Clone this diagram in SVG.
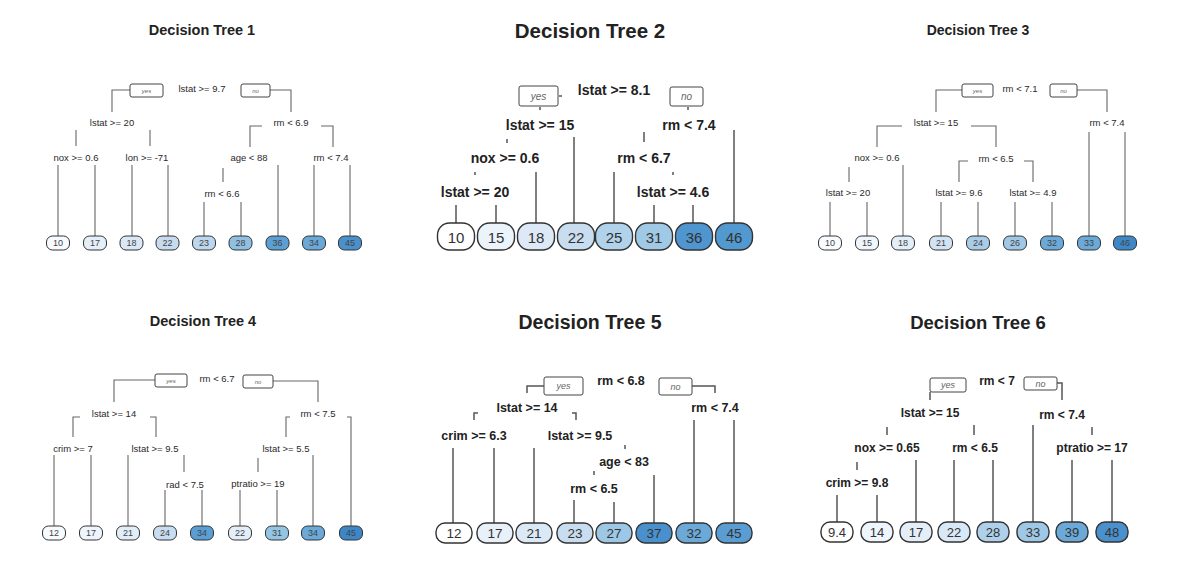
<svg xmlns="http://www.w3.org/2000/svg" width="1182" height="574" viewBox="0 0 1182 574">
<style>
text{font-family:"Liberation Sans",Arial,sans-serif;text-anchor:middle;dominant-baseline:central;fill:#222}
.ts{font-size:14.5px;font-weight:bold}
.tl{font-size:20.5px;font-weight:bold}
.ls{font-size:9.5px;fill:#2a2a2a}
.lm{font-size:12.5px;font-weight:bold}
.ll{font-size:14px;font-weight:bold}
.ks{font-size:9px;fill:#444}
.km{font-size:13.5px;fill:#333}
.kl{font-size:15px;fill:#333}
.yn{font-style:italic;fill:#666}
.yns{font-size:6px}
.ynm{font-size:9px}
.ynl{font-size:10px}
.box{fill:#fff;stroke:#444;stroke-width:1}
.leaf{stroke:#333;stroke-width:1}
.leafL{stroke:#333;stroke-width:1.4}
.cn path{fill:none;stroke:#666;stroke-width:1.1}
.cnL path{fill:none;stroke:#555;stroke-width:1.5}
</style>
<rect width="1182" height="574" fill="#fff"/>

<!-- ================= Tree 1 ================= -->
<text class="ts" x="202" y="30">Decision Tree 1</text>
<g class="cn" id="t1-connectors">
<path d="M130,90 H112 V112"/><path d="M270,90 H291 V112"/>
<path d="M76,130 V146"/><path d="M150,130 V146"/>
<path d="M262,126 H250 V147"/><path d="M321,126 H333 V147"/>
<path d="M223,168 V182"/>
<path d="M58,165 V236"/><path d="M95,165 V236"/><path d="M132,165 V236"/><path d="M168,165 V236"/>
<path d="M204,202 V236"/><path d="M241,202 V236"/>
<path d="M278,165 V236"/><path d="M314,165 V236"/><path d="M350,165 V236"/>
</g>
<g id="t1-root"><rect class="box" x="130" y="84" width="33" height="13" rx="2"/><text class="yn yns" x="146.5" y="90.5">yes</text>
<text class="ls" x="202" y="88">lstat &gt;= 9.7</text>
<rect class="box" x="241" y="84" width="29" height="13" rx="2"/><text class="yn yns" x="255.5" y="90.5">no</text></g>
<g id="t1-n2"><text class="ls" x="112" y="122">lstat &gt;= 20</text></g>
<g id="t1-n3"><text class="ls" x="291" y="122">rm &lt; 6.9</text></g>
<g id="t1-n4"><text class="ls" x="76" y="157">nox &gt;= 0.6</text></g>
<g id="t1-n5"><text class="ls" x="147" y="157">lon &gt;= -71</text></g>
<g id="t1-n6"><text class="ls" x="249" y="157">age &lt; 88</text></g>
<g id="t1-n7"><text class="ls" x="331" y="157">rm &lt; 7.4</text></g>
<g id="t1-n12"><text class="ls" x="222" y="193">rm &lt; 6.6</text></g>
<g id="t1-l1"><rect class="leaf" x="46.5" y="236" width="23" height="14" rx="6" fill="#f7fbff"/><text class="ks" x="58" y="243">10</text></g>
<g id="t1-l2"><rect class="leaf" x="83.5" y="236" width="23" height="14" rx="6" fill="#e5eff9"/><text class="ks" x="95" y="243">17</text></g>
<g id="t1-l3"><rect class="leaf" x="120" y="236" width="23" height="14" rx="6" fill="#dae8f6"/><text class="ks" x="131.5" y="243">18</text></g>
<g id="t1-l4"><rect class="leaf" x="156" y="236" width="23" height="14" rx="6" fill="#c6dbef"/><text class="ks" x="167.5" y="243">22</text></g>
<g id="t1-l5"><rect class="leaf" x="192.5" y="236" width="23" height="14" rx="6" fill="#bdd7ee"/><text class="ks" x="204" y="243">23</text></g>
<g id="t1-l6"><rect class="leaf" x="229" y="236" width="23" height="14" rx="6" fill="#8fc0e2"/><text class="ks" x="240.5" y="243">28</text></g>
<g id="t1-l7"><rect class="leaf" x="266" y="236" width="23" height="14" rx="6" fill="#5b9fd3"/><text class="ks" x="277.5" y="243">36</text></g>
<g id="t1-l8"><rect class="leaf" x="302.5" y="236" width="23" height="14" rx="6" fill="#6aa8d8"/><text class="ks" x="314" y="243">34</text></g>
<g id="t1-l9"><rect class="leaf" x="338.5" y="236" width="23" height="14" rx="6" fill="#4a91cc"/><text class="ks" x="350" y="243">45</text></g>

<!-- ================= Tree 2 ================= -->
<text class="tl" x="590" y="30">Decision Tree 2</text>
<g class="cnL" id="t2-connectors">
<path d="M540,107 V110"/><path d="M559,96 H562"/><path d="M688,107 V110"/>
<path d="M507,139 V143"/><path d="M574,137 V223"/>
<path d="M475,172 V175"/><path d="M536,172 V223"/>
<path d="M456,205 V223"/><path d="M496,205 V223"/>
<path d="M644,132 V142"/><path d="M734,130 V223"/>
<path d="M614,172 V223"/><path d="M673,172 V175"/>
<path d="M654,205 V223"/><path d="M693,205 V223"/>
</g>
<g id="t2-root"><rect class="box" x="519" y="86" width="39" height="20" rx="2"/><text class="yn ynl" x="538.5" y="96">yes</text>
<text class="ll" x="614" y="90">lstat &gt;= 8.1</text>
<rect class="box" x="670" y="87" width="33" height="19" rx="2"/><text class="yn ynl" x="686.5" y="96.5">no</text></g>
<g id="t2-n2"><text class="ll" x="540" y="125">lstat &gt;= 15</text></g>
<g id="t2-n3"><text class="ll" x="689" y="125">rm &lt; 7.4</text></g>
<g id="t2-n4"><text class="ll" x="505" y="158">nox &gt;= 0.6</text></g>
<g id="t2-n6"><text class="ll" x="644" y="158">rm &lt; 6.7</text></g>
<g id="t2-n8"><text class="ll" x="475" y="192">lstat &gt;= 20</text></g>
<g id="t2-n13"><text class="ll" x="673" y="192">lstat &gt;= 4.6</text></g>
<g id="t2-l1"><rect class="leafL" x="437.5" y="223" width="37" height="27" rx="12" fill="#ffffff"/><text class="kl" x="456" y="237">10</text></g>
<g id="t2-l2"><rect class="leafL" x="477.5" y="223" width="37" height="27" rx="12" fill="#ebf3fb"/><text class="kl" x="496" y="237">15</text></g>
<g id="t2-l3"><rect class="leafL" x="517.5" y="223" width="37" height="27" rx="12" fill="#dde9f6"/><text class="kl" x="536" y="237">18</text></g>
<g id="t2-l4"><rect class="leafL" x="557.5" y="223" width="37" height="27" rx="12" fill="#c9ddf0"/><text class="kl" x="576" y="237">22</text></g>
<g id="t2-l5"><rect class="leafL" x="595.5" y="223" width="37" height="27" rx="12" fill="#b0d2ea"/><text class="kl" x="614" y="237">25</text></g>
<g id="t2-l6"><rect class="leafL" x="635.5" y="223" width="37" height="27" rx="12" fill="#a0c9e6"/><text class="kl" x="654" y="237">31</text></g>
<g id="t2-l7"><rect class="leafL" x="675.5" y="223" width="37" height="27" rx="12" fill="#4f95cf"/><text class="kl" x="694" y="237">36</text></g>
<g id="t2-l8"><rect class="leafL" x="715.5" y="223" width="37" height="27" rx="12" fill="#5299cf"/><text class="kl" x="734" y="237">46</text></g>

<!-- ================= Tree 3 ================= -->
<text class="ts" x="978" y="30" style="font-size:14px">Decision Tree 3</text>
<g class="cn" id="t3-connectors">
<path d="M962,90 H936 V112"/><path d="M1077,90 H1107 V112"/>
<path d="M902,126 H877 V147"/><path d="M971,126 H996 V147"/>
<path d="M849,167 V182"/><path d="M903,165 V236"/>
<path d="M968,161 H959 V182"/><path d="M1024,161 H1033 V182"/>
<path d="M830,202 V236"/><path d="M867,202 V236"/><path d="M941,202 V236"/><path d="M978,202 V236"/>
<path d="M1015,202 V236"/><path d="M1052,202 V236"/>
<path d="M1089,132 V236"/><path d="M1125,132 V236"/>
</g>
<g id="t3-root"><rect class="box" x="962" y="84" width="31" height="13" rx="2"/><text class="yn yns" x="977.5" y="90.5">yes</text>
<text class="ls" x="1020" y="88">rm &lt; 7.1</text>
<rect class="box" x="1050" y="84" width="27" height="13" rx="2"/><text class="yn yns" x="1063.5" y="90.5">no</text></g>
<g id="t3-n2"><text class="ls" x="936" y="122">lstat &gt;= 15</text></g>
<g id="t3-n3"><text class="ls" x="1107" y="122">rm &lt; 7.4</text></g>
<g id="t3-n4"><text class="ls" x="877" y="157">nox &gt;= 0.6</text></g>
<g id="t3-n5"><text class="ls" x="996" y="158">rm &lt; 6.5</text></g>
<g id="t3-n8"><text class="ls" x="848" y="192">lstat &gt;= 20</text></g>
<g id="t3-n10"><text class="ls" x="959" y="192">lstat &gt;= 9.6</text></g>
<g id="t3-n11"><text class="ls" x="1033" y="192">lstat &gt;= 4.9</text></g>
<g id="t3-l1"><rect class="leaf" x="818.5" y="236" width="23" height="14" rx="6" fill="#f7fbff"/><text class="ks" x="830" y="243">10</text></g>
<g id="t3-l2"><rect class="leaf" x="855.5" y="236" width="23" height="14" rx="6" fill="#eff6fd"/><text class="ks" x="867" y="243">15</text></g>
<g id="t3-l3"><rect class="leaf" x="891.5" y="236" width="23" height="14" rx="6" fill="#e2eef9"/><text class="ks" x="903" y="243">18</text></g>
<g id="t3-l4"><rect class="leaf" x="929.5" y="236" width="23" height="14" rx="6" fill="#d2e4f4"/><text class="ks" x="941" y="243">21</text></g>
<g id="t3-l5"><rect class="leaf" x="966.5" y="236" width="23" height="14" rx="6" fill="#a9cde9"/><text class="ks" x="978" y="243">24</text></g>
<g id="t3-l6"><rect class="leaf" x="1003.5" y="236" width="23" height="14" rx="6" fill="#9fc8e6"/><text class="ks" x="1015" y="243">26</text></g>
<g id="t3-l7"><rect class="leaf" x="1040.5" y="236" width="23" height="14" rx="6" fill="#6ba9d8"/><text class="ks" x="1052" y="243">32</text></g>
<g id="t3-l8"><rect class="leaf" x="1077.5" y="236" width="23" height="14" rx="6" fill="#6ba9d8"/><text class="ks" x="1089" y="243">33</text></g>
<g id="t3-l9"><rect class="leaf" x="1113.5" y="236" width="23" height="14" rx="6" fill="#3f88c8"/><text class="ks" x="1125" y="243">46</text></g>

<!-- ================= Tree 4 ================= -->
<text class="ts" x="203" y="321">Decision Tree 4</text>
<g class="cn" id="t4-connectors">
<path d="M155,380 H114 V402"/><path d="M273,381 H318 V402"/>
<path d="M80,417 H73 V437"/><path d="M150,417 H156 V437"/>
<path d="M184,455 V472"/>
<path d="M290,417 H286 V437"/><path d="M347,417 H351 V526"/>
<path d="M258,458 V472"/><path d="M313,455 V526"/>
<path d="M54,455 V526"/><path d="M91,455 V526"/><path d="M128,455 V526"/>
<path d="M165,490 V526"/><path d="M202,490 V526"/>
<path d="M240,490 V526"/><path d="M277,490 V526"/>
</g>
<g id="t4-root"><rect class="box" x="155" y="374" width="32" height="13" rx="2"/><text class="yn yns" x="171" y="380.5">yes</text>
<text class="ls" x="217" y="378">rm &lt; 6.7</text>
<rect class="box" x="243" y="375" width="30" height="13" rx="2"/><text class="yn yns" x="258" y="381.5">no</text></g>
<g id="t4-n2"><text class="ls" x="114" y="413">lstat &gt;= 14</text></g>
<g id="t4-n3"><text class="ls" x="318" y="413">rm &lt; 7.5</text></g>
<g id="t4-n4"><text class="ls" x="73" y="448">crim &gt;= 7</text></g>
<g id="t4-n5"><text class="ls" x="155" y="448">lstat &gt;= 9.5</text></g>
<g id="t4-n6"><text class="ls" x="286" y="448">lstat &gt;= 5.5</text></g>
<g id="t4-n11"><text class="ls" x="185" y="484">rad &lt; 7.5</text></g>
<g id="t4-n12"><text class="ls" x="258" y="483">ptratio &gt;= 19</text></g>
<g id="t4-l1"><rect class="leaf" x="42.5" y="526" width="23" height="14" rx="6" fill="#f7fbff"/><text class="ks" x="54" y="533">12</text></g>
<g id="t4-l2"><rect class="leaf" x="79.5" y="526" width="23" height="14" rx="6" fill="#eef5fc"/><text class="ks" x="91" y="533">17</text></g>
<g id="t4-l3"><rect class="leaf" x="116.5" y="526" width="23" height="14" rx="6" fill="#e1edf8"/><text class="ks" x="128" y="533">21</text></g>
<g id="t4-l4"><rect class="leaf" x="153.5" y="526" width="23" height="14" rx="6" fill="#c8ddf1"/><text class="ks" x="165" y="533">24</text></g>
<g id="t4-l5"><rect class="leaf" x="190.5" y="526" width="23" height="14" rx="6" fill="#5a9fd3"/><text class="ks" x="202" y="533">34</text></g>
<g id="t4-l6"><rect class="leaf" x="228.5" y="526" width="23" height="14" rx="6" fill="#e3eef9"/><text class="ks" x="240" y="533">22</text></g>
<g id="t4-l7"><rect class="leaf" x="265.5" y="526" width="23" height="14" rx="6" fill="#95c5e5"/><text class="ks" x="277" y="533">31</text></g>
<g id="t4-l8"><rect class="leaf" x="301.5" y="526" width="23" height="14" rx="6" fill="#6aa9d8"/><text class="ks" x="313" y="533">34</text></g>
<g id="t4-l9"><rect class="leaf" x="339.5" y="526" width="23" height="14" rx="6" fill="#3d87c6"/><text class="ks" x="351" y="533">45</text></g>

<!-- ================= Tree 5 ================= -->
<text class="tl" x="590" y="322" style="font-size:19.5px">Decision Tree 5</text>
<g class="cnL" id="t5-connectors">
<path d="M544,386 H527 V393"/><path d="M692,386 H715 V393"/>
<path d="M478,413 H474 V420"/><path d="M572,413 H576 V420"/>
<path d="M625,445 V449"/><path d="M594,471 V475"/>
<path d="M453,448 V523"/><path d="M494,448 V523"/><path d="M534,448 V523"/>
<path d="M574,500 V523"/><path d="M614,502 V523"/><path d="M654,475 V523"/>
<path d="M694,420 V523"/><path d="M734,420 V523"/>
</g>
<g id="t5-root"><rect class="box" x="544" y="377" width="39" height="18" rx="2"/><text class="yn ynm" x="563.5" y="386">yes</text>
<text class="lm" x="621" y="381">rm &lt; 6.8</text>
<rect class="box" x="659" y="378" width="33" height="17" rx="2"/><text class="yn ynm" x="675.5" y="386.5">no</text></g>
<g id="t5-n2"><text class="lm" x="527" y="408">lstat &gt;= 14</text></g>
<g id="t5-n3"><text class="lm" x="715" y="408">rm &lt; 7.4</text></g>
<g id="t5-n4"><text class="lm" x="474" y="436">crim &gt;= 6.3</text></g>
<g id="t5-n5"><text class="lm" x="580" y="436">lstat &gt;= 9.5</text></g>
<g id="t5-n11"><text class="lm" x="624" y="462">age &lt; 83</text></g>
<g id="t5-n22"><text class="lm" x="594" y="489">rm &lt; 6.5</text></g>
<g id="t5-l1"><rect class="leafL" x="436" y="523" width="36" height="20" rx="9" fill="#ffffff"/><text class="km" x="454" y="533">12</text></g>
<g id="t5-l2"><rect class="leafL" x="477" y="523" width="36" height="20" rx="9" fill="#e8f1fa"/><text class="km" x="495" y="533">17</text></g>
<g id="t5-l3"><rect class="leafL" x="516" y="523" width="36" height="20" rx="9" fill="#dbe9f6"/><text class="km" x="534" y="533">21</text></g>
<g id="t5-l4"><rect class="leafL" x="557" y="523" width="36" height="20" rx="9" fill="#c8ddf0"/><text class="km" x="575" y="533">23</text></g>
<g id="t5-l5"><rect class="leafL" x="596" y="523" width="36" height="20" rx="9" fill="#9dc8e5"/><text class="km" x="614" y="533">27</text></g>
<g id="t5-l6"><rect class="leafL" x="636" y="523" width="36" height="20" rx="9" fill="#4a90cc"/><text class="km" x="654" y="533">37</text></g>
<g id="t5-l7"><rect class="leafL" x="676" y="523" width="36" height="20" rx="9" fill="#6aa9d8"/><text class="km" x="694" y="533">32</text></g>
<g id="t5-l8"><rect class="leafL" x="716" y="523" width="36" height="20" rx="9" fill="#5a9dd2"/><text class="km" x="734" y="533">45</text></g>

<!-- ================= Tree 6 ================= -->
<text class="tl" x="978" y="322" style="font-size:18.5px">Decision Tree 6</text>
<g class="cnL" id="t6-connectors">
<path d="M930,392 V400"/><path d="M1057,383 H1062 V400"/>
<path d="M887,427 V435"/><path d="M974,425 V435"/>
<path d="M857,462 V470"/><path d="M1092,427 V435"/>
<path d="M837,495 V522"/><path d="M877,495 V522"/>
<path d="M916,460 V522"/><path d="M954,460 V522"/><path d="M993,460 V522"/>
<path d="M1033,425 V522"/><path d="M1072,460 V522"/><path d="M1112,460 V522"/>
</g>
<g id="t6-root"><rect class="box" x="930" y="378" width="36" height="14" rx="2"/><text class="yn ynm" x="948" y="385">yes</text>
<text class="lm" x="997" y="381" style="font-size:12px">rm &lt; 7</text>
<rect class="box" x="1024" y="377" width="33" height="13" rx="2"/><text class="yn ynm" x="1040.5" y="383.5">no</text></g>
<g id="t6-n2"><text class="lm" x="930" y="413" style="font-size:12px">lstat &gt;= 15</text></g>
<g id="t6-n3"><text class="lm" x="1062" y="415" style="font-size:12px">rm &lt; 7.4</text></g>
<g id="t6-n4"><text class="lm" x="887" y="448" style="font-size:12px">nox &gt;= 0.65</text></g>
<g id="t6-n5"><text class="lm" x="975" y="448" style="font-size:12px">rm &lt; 6.5</text></g>
<g id="t6-n7"><text class="lm" x="1092" y="448" style="font-size:12px">ptratio &gt;= 17</text></g>
<g id="t6-n8"><text class="lm" x="857" y="483" style="font-size:12px">crim &gt;= 9.8</text></g>
<g id="t6-l1"><rect class="leafL" x="821" y="522" width="32" height="20" rx="9" fill="#ffffff"/><text class="km" x="837" y="532" style="font-size:13px">9.4</text></g>
<g id="t6-l2"><rect class="leafL" x="861" y="522" width="32" height="20" rx="9" fill="#eef5fc"/><text class="km" x="877" y="532" style="font-size:13px">14</text></g>
<g id="t6-l3"><rect class="leafL" x="900" y="522" width="32" height="20" rx="9" fill="#e3eef9"/><text class="km" x="916" y="532" style="font-size:13px">17</text></g>
<g id="t6-l4"><rect class="leafL" x="938" y="522" width="32" height="20" rx="9" fill="#d9e8f6"/><text class="km" x="954" y="532" style="font-size:13px">22</text></g>
<g id="t6-l5"><rect class="leafL" x="977" y="522" width="32" height="20" rx="9" fill="#aed0ea"/><text class="km" x="993" y="532" style="font-size:13px">28</text></g>
<g id="t6-l6"><rect class="leafL" x="1017" y="522" width="32" height="20" rx="9" fill="#9fc8e6"/><text class="km" x="1033" y="532" style="font-size:13px">33</text></g>
<g id="t6-l7"><rect class="leafL" x="1056" y="522" width="32" height="20" rx="9" fill="#6aa9d8"/><text class="km" x="1072" y="532" style="font-size:13px">39</text></g>
<g id="t6-l8"><rect class="leafL" x="1096" y="522" width="32" height="20" rx="9" fill="#4a90cc"/><text class="km" x="1112" y="532" style="font-size:13px">48</text></g>
</svg>
